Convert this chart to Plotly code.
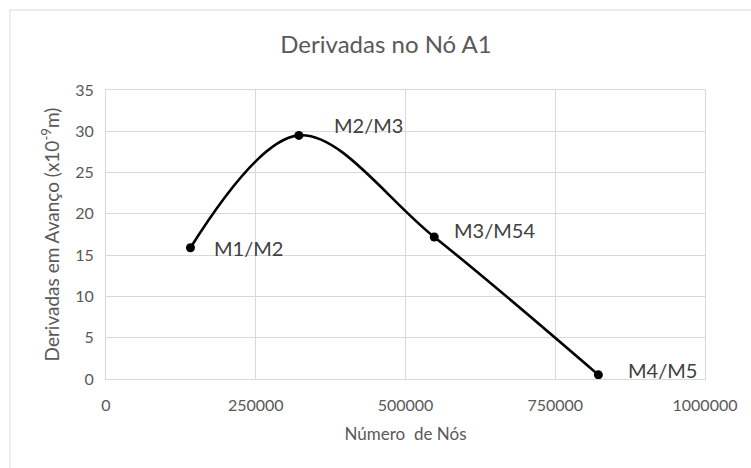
import plotly.graph_objects as go

# Data series: node count vs forward-step derivative at node A1
numero_nos = [141000, 322000, 548000, 822000]
derivadas = [15.9, 29.5, 17.2, 0.5]
rotulos = ["M1/M2", "M2/M3", "M3/M54", "M4/M5"]

x_ticks = [0, 250000, 500000, 750000, 1000000]
y_ticks = [0, 5, 10, 15, 20, 25, 30, 35]

W, H = 751, 468
L, R, T, B = 106, 46, 90, 89
FONT = "Lato"
GREY = "#595959"
GRID = "#d9d9d9"

fig = go.Figure()
fig.add_trace(go.Scatter(
    x=numero_nos, y=derivadas,
    mode="lines+markers",
    line=dict(color="black", width=2.6, shape="spline", smoothing=1.0),
    marker=dict(color="black", size=9),
    hoverinfo="x+y",
    showlegend=False,
))

# data labels to the right of each point
label_offsets = [(22, 0), (33, 10), (18, 7), (28, 5)]
for xv, yv, txt, (dx, dy) in zip(numero_nos, derivadas, rotulos, label_offsets):
    fig.add_annotation(x=xv, y=yv, text=txt, showarrow=False,
                       xanchor="left", yanchor="middle", xshift=dx, yshift=dy,
                       font=dict(family=FONT, size=20, color="#404040"))

# chart frame
pw, ph = W - L - R, H - T - B
def px_x(p):
    return (p - L) / pw
def px_y(p):
    return (H - B - p) / ph
fig.add_shape(type="rect", xref="paper", yref="paper",
              x0=px_x(10), x1=px_x(W + 20), y0=px_y(10), y1=px_y(H + 20),
              line=dict(color=GRID, width=1), fillcolor="rgba(0,0,0,0)", layer="below")

fig.update_layout(
    width=W, height=H,
    margin=dict(l=L, r=R, t=T, b=B),
    paper_bgcolor="white", plot_bgcolor="white",
    title=dict(text="Derivadas no Nó A1", x=386 / W, xanchor="center",
               xref="container", y=1 - 45 / H, yref="container", yanchor="middle",
               font=dict(family=FONT, size=24, color=GREY)),
    xaxis=dict(range=[0, 1000000], tickvals=x_ticks,
               ticktext=[str(v) for v in x_ticks],
               showgrid=True, gridcolor=GRID, gridwidth=1,
               showline=True, linecolor=GRID, linewidth=1, mirror=True,
               zeroline=False, ticks="outside", ticklen=12, tickcolor="rgba(0,0,0,0)",
               tickfont=dict(family=FONT, size=16, color=GREY),
               title=dict(text="Número\u00a0 de Nós", standoff=14,
                          font=dict(family=FONT, size=17, color=GREY))),
    yaxis=dict(range=[0, 35], tickvals=y_ticks,
               showgrid=True, gridcolor=GRID, gridwidth=1,
               showline=True, linecolor=GRID, linewidth=1, mirror=True,
               zeroline=False, ticks="outside", ticklen=8, tickcolor="rgba(0,0,0,0)",
               tickfont=dict(family=FONT, size=16, color=GREY),
               title=dict(text="Derivadas em Avanço (x10<sup>-9</sup>m)", standoff=10,
                          font=dict(family=FONT, size=19, color=GREY))),
)

fig.write_html("out.html")
